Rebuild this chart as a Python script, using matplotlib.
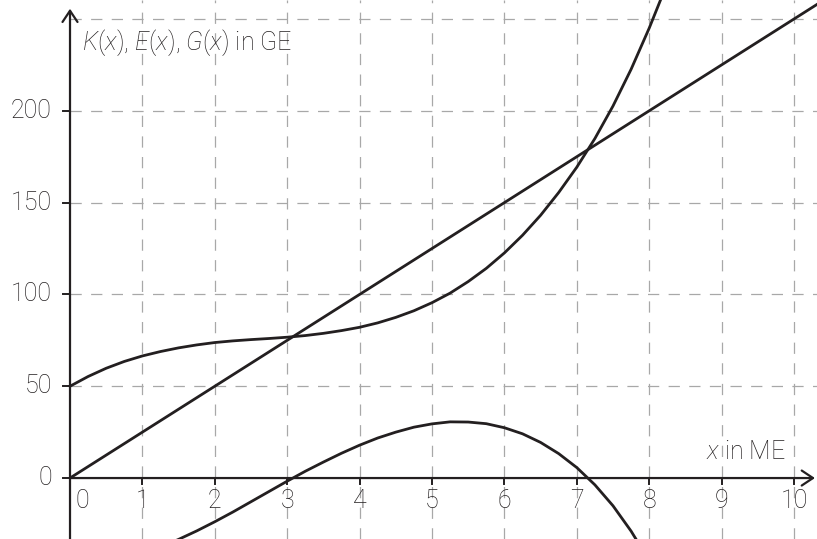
import matplotlib.pyplot as plt

plt.rcParams["font.family"] = ["Roboto", "DejaVu Sans"]
plt.rcParams["font.weight"] = "light"
plt.rcParams["mathtext.fontset"] = "custom"
plt.rcParams["mathtext.it"] = "Roboto:italic:light"
plt.rcParams["mathtext.rm"] = "Roboto:light"

# values
x_ticks = [0, 1, 2, 3, 4, 5, 6, 7, 8, 9, 10]
y_ticks = [0, 50, 100, 150, 200]
y_grid = [50, 100, 150, 200, 250]

cost_x = [0, 0.25, 0.5, 0.75, 1, 1.25, 1.5, 1.75, 2, 2.25, 2.5, 2.75, 3, 3.25, 3.5, 3.75,
          4, 4.25, 4.5, 4.75, 5, 5.25, 5.5, 5.75, 6, 6.25, 6.5, 6.75, 7, 7.25, 7.5, 7.75,
          8, 8.25]
cost_y = [50, 55.3, 59.8, 63.5, 66.5, 68.9, 70.9, 72.5, 73.8, 74.7, 75.4, 76.0, 76.7, 77.6,
          78.8, 80.3, 82.1, 84.5, 87.5, 91.1, 95.5, 100.7, 107.0, 114.2, 122.6, 132.2,
          143.1, 155.5, 169.3, 184.9, 202.6, 222.6, 245.0, 269.5]

revenue_x = [0, 10.4]
revenue_y = [0, 260]

profit_x = [1, 1.25, 1.5, 1.75, 2, 2.25, 2.5, 2.75, 3, 3.25, 3.5, 3.75, 4, 4.25, 4.5, 4.75,
            5, 5.25, 5.5, 5.75, 6, 6.25, 6.5, 6.75, 7, 7.25, 7.5, 7.75, 8]
profit_y = [-41.5, -37.7, -33.4, -28.8, -23.8, -18.5, -12.9, -7.3, -1.7, 3.7, 8.7, 13.5,
            17.9, 21.8, 25.0, 27.7, 29.5, 30.6, 30.5, 29.6, 27.4, 24.1, 19.4, 13.3, 5.7,
            -3.7, -15.1, -28.9, -45.0]

ink = "#231f20"
grid_col = "#a8a8a8"
fs = 18

fig = plt.figure(figsize=(8.17, 5.39), dpi=100)
ax = fig.add_axes([0, 0, 1, 1])
ax.set_xlim(-0.967, 10.318)
ax.set_ylim(-33.2, 260.35)
ax.axis("off")

# dashed grid
for xv in x_ticks[1:]:
    ax.axvline(xv, color=grid_col, lw=0.9, dashes=(9, 7.5), zorder=1)
for yv in y_grid:
    ax.hlines(yv, 0, 10.4, color=grid_col, lw=0.9, linestyles=(0, (9, 7.5)), zorder=1)

# axes with arrows
arrow = dict(arrowstyle="->,head_length=0.45,head_width=0.3", lw=1.6, color=ink,
             mutation_scale=18, shrinkA=0, shrinkB=0)
ax.annotate("", xy=(0, 255.6), xytext=(0, -33.2), arrowprops=arrow, zorder=3)
ax.annotate("", xy=(10.29, 0), xytext=(0, 0), arrowprops=arrow, zorder=3)

# tick marks and labels
for yv in y_ticks:
    ax.plot([-0.1, 0], [yv, yv], color=ink, lw=1.4, zorder=3)
    ax.text(-0.25, yv, str(yv), ha="right", va="center", fontsize=fs, color=ink)
for xv in x_ticks[1:]:
    ax.plot([xv, xv], [0, -3.5], color=ink, lw=1.4, zorder=3)
for xv in x_ticks:
    xpos = xv + 0.175 if xv == 0 else xv
    ax.text(xpos, -12.5, str(xv), ha="center", va="center", fontsize=fs, color=ink)

# curves
ax.plot(cost_x, cost_y, color=ink, lw=2.0, zorder=4)
ax.plot(revenue_x, revenue_y, color=ink, lw=2.0, zorder=4)
ax.plot(profit_x, profit_y, color=ink, lw=2.0, zorder=4)

ax.text(0.16, 237, r"$K$($x$), $E$($x$), $G$($x$) in GE", ha="left", va="center",
        fontsize=fs, color=ink)
ax.text(9.88, 14.3, r"$x$ in ME", ha="right", va="center", fontsize=fs, color=ink)

fig.savefig("out.png", dpi=100)
